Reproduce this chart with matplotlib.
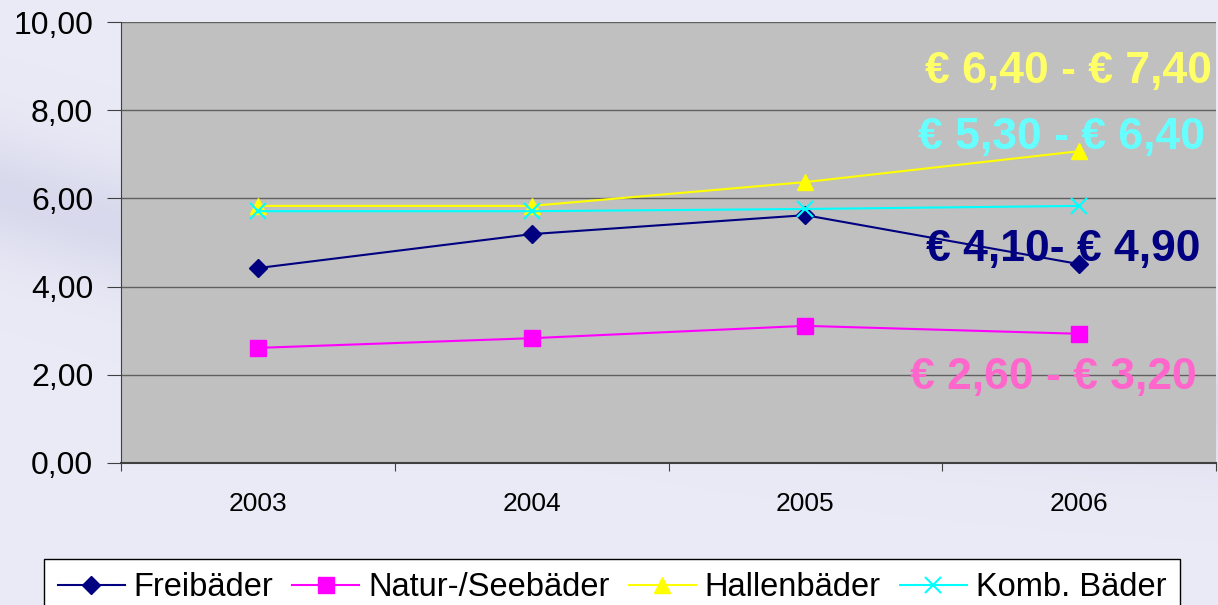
import numpy as np
import matplotlib
matplotlib.use("Agg")
import matplotlib.pyplot as plt

# ---- Daten ----
jahre = ["2003", "2004", "2005", "2006"]
freibaeder = [4.42, 5.19, 5.62, 4.51]
natur_see = [2.61, 2.83, 3.11, 2.93]
hallen = [5.83, 5.83, 6.37, 7.07]
komb = [5.71, 5.71, 5.76, 5.83]
preis_texte = ["€ 6,40 - € 7,40", "€ 5,30 - € 6,40", "€ 4,10- € 4,90", "€ 2,60 - € 3,20"]
preis_y = [8.87, 7.39, 4.83, 1.93]
preis_x = [3.485, 3.46, 3.445, 3.43]
preis_farben = ["#FFFF66", "#66FFFF", "#000080", "#FF66CC"]

plt.rcParams['font.family'] = ['Liberation Sans', 'DejaVu Sans']

fig = plt.figure(figsize=(12.18, 6.05), dpi=100)
fig.patch.set_facecolor("#EAEAF6")

# weicher Hintergrund-Schwung (nur Dekor)
bg = fig.add_axes([0, 0, 1, 1], zorder=-1)
bg.set_axis_off()
yy, xx = np.mgrid[0:1:300j, 0:1:600j]
band = np.exp(-((yy - (0.62 - 0.35 * xx + 0.25 * (xx - 0.5) ** 2)) / 0.10) ** 2)
base = np.array([0.918, 0.918, 0.965])
dark = np.array([0.80, 0.81, 0.90])
rgb = base + (dark - base) * (0.6 * band)[..., None]
bg.imshow(rgb, extent=[0, 1, 0, 1], aspect="auto", origin="lower")
bg.set_xlim(0, 1); bg.set_ylim(0, 1)

ax = fig.add_axes([121 / 1218, 142 / 605, 1095 / 1218, 441 / 605])
ax.set_facecolor("#C0C0C0")
x = np.arange(len(jahre))

ax.plot(x, freibaeder, color="#000080", lw=1.5, marker="D", ms=9, label="Freibäder", zorder=3)
ax.plot(x, natur_see, color="#FF00FF", lw=1.5, marker="s", ms=12, label="Natur-/Seebäder", zorder=3)
ax.plot(x, hallen, color="#FFFF00", lw=1.5, marker="^", ms=12, label="Hallenbäder", zorder=3)
ax.plot(x, komb, color="#00FFFF", lw=1.5, marker="x", ms=12, mew=1.5, label="Komb. Bäder", zorder=3)

for t, xv, yv, c in zip(preis_texte, preis_x, preis_y, preis_farben):
    ax.text(xv, yv, t, color=c, fontsize=32, fontweight="bold", ha="right", va="center", zorder=4)

ax.set_xlim(-0.5, 3.5)
ax.set_ylim(0, 10)
ax.set_yticks(np.arange(0, 10.1, 2))
ax.set_yticklabels([f"{v:.2f}".replace(".", ",") for v in np.arange(0, 10.1, 2)], fontsize=23)
ax.yaxis.grid(True, color="#606060", lw=1)
ax.set_axisbelow(True)
ax.set_xticks(np.arange(-0.5, 3.6, 1))
ax.set_xticklabels([])
ax.set_xticks(x, minor=True)
ax.set_xticklabels(jahre, minor=True, fontsize=19)
ax.tick_params(axis="x", which="major", length=6, direction="out", color="#404040")
ax.tick_params(axis="x", which="minor", length=0, pad=21)
ax.tick_params(axis="y", length=10, direction="out", color="#404040", pad=10)
for s in ["top", "right"]:
    ax.spines[s].set_visible(False)
ax.spines["left"].set_color("#404040")
ax.spines["bottom"].set_color("#404040")
ax.spines["bottom"].set_linewidth(1.5)

leg = fig.legend(loc="lower left", bbox_to_anchor=(44 / 1218, -12 / 605), ncol=4, fontsize=23.5,
                 frameon=True, fancybox=False, edgecolor="black", facecolor="white", framealpha=1,
                 handlelength=2.05, handletextpad=0.28, columnspacing=0.58, borderpad=0.42,
                 borderaxespad=0)

fig.savefig("out.png", dpi=100, facecolor=fig.get_facecolor())
